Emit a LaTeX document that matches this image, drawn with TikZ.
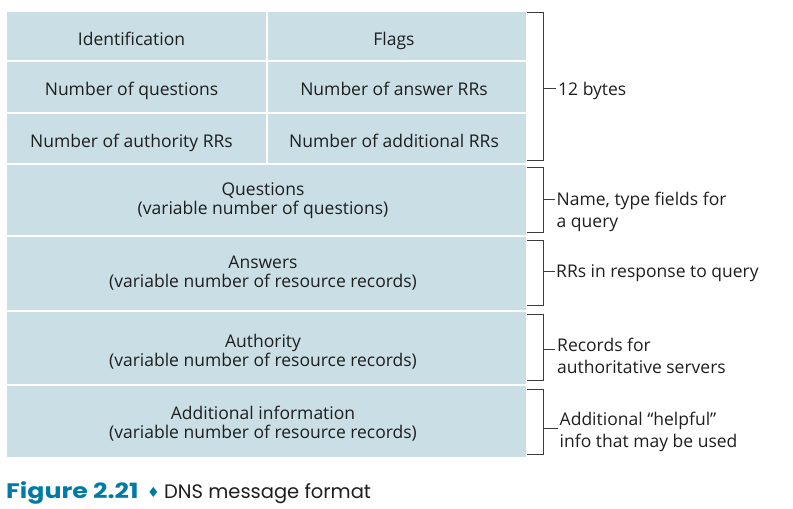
\documentclass[tikz,border=0pt]{standalone}
\usepackage{fontspec}
\setmainfont{Open Sans}
\newfontfamily\capfont{Poppins}
\newfontfamily\symfont{DejaVu Sans}
\definecolor{cellfill}{RGB}{201,223,229}
\definecolor{figblue}{RGB}{0,122,166}
\definecolor{ink}{RGB}{30,30,30}
\definecolor{bracegray}{RGB}{60,60,60}
\begin{document}
\begin{tikzpicture}[x=1pt,y=-1pt,
  cell/.style={fill=cellfill, draw=none, inner sep=0pt},
  txt/.style={font=\fontsize{17.5}{19}\selectfont, text=ink, align=center, inner sep=0pt, anchor=base},
  note/.style={font=\fontsize{17.5}{22}\selectfont, text=ink, align=left, inner sep=0pt, anchor=base west},
  brace/.style={draw=bracegray, line width=1pt}]
\useasboundingbox (0,0) rectangle (793,509);

% header fields (12 bytes)
\path[cell] (7,11.5) rectangle (266,59.5);
\path[cell] (268,11.5) rectangle (525.5,59.5);
\path[cell] (7,61.5) rectangle (266,112);
\path[cell] (268,61.5) rectangle (525.5,112);
\path[cell] (7,114) rectangle (266,162.7);
\path[cell] (268,114) rectangle (525.5,162.7);
% variable-length sections
\path[cell] (7,164.7) rectangle (525.5,235);
\path[cell] (7,237) rectangle (525.5,309.5);
\path[cell] (7,312) rectangle (525.5,383.5);
\path[cell] (7,386) rectangle (525.5,456.7);

\node[txt] (id) at (131.5,45) {Identification};
\node[txt] (flags) at (394,45) {Flags};
\node[txt] (nq) at (131.5,95.7) {Number of questions};
\node[txt] (na) at (394,95.7) {Number of answer RRs};
\node[txt] (nau) at (131.5,147.3) {Number of authority RRs};
\node[txt] (nad) at (394,147.3) {Number of additional RRs};

% multi-line texts are placed by the baseline of their last line
\node[txt] (q) at (263,214.5) {Questions\\(variable number of questions)};
\node[txt] (ans) at (263,287.5) {Answers\\(variable number of resource records)};
\node[txt] (auth) at (263,366) {Authority\\(variable number of resource records)};
\node[txt] (add) at (263,438) {Additional information\\(variable number of resource records)};

% brackets with their notes
\draw[brace] (527,12.3) -| (543,160) -- (527,160);
\draw[brace] (543,88.7) -- (556,88.7);
\node[note] (n1) at (558,95) {12 bytes};

\draw[brace] (527,167) -| (543,232) -- (527,232);
\draw[brace] (543,199) -- (555,199);
\node[note] (n2) at (556.5,227) {Name, type fields for\\a query};

\draw[brace] (527,240) -| (543,305.7) -- (527,305.7);
\draw[brace] (543,271.7) -- (555,271.7);
\node[note] (n3) at (556,277.5) {RRs in response to query};

\draw[brace] (527,314) -| (543,380) -- (527,380);
\draw[brace] (543,349) -- (555,349);
\node[note] (n4) at (557,373) {Records for\\authoritative servers};

\draw[brace] (527,389) -| (543,454) -- (527,454);
\draw[brace] (543,428) -- (558,428);
\node[note] (n5) at (559.5,447) {Additional \textquotedblleft helpful\textquotedblright\\info that may be used};

% caption
\node[anchor=base west, inner sep=0pt, font=\capfont\fontsize{21}{24}\selectfont\bfseries, text=figblue] (fig) at (6,498.3) {\scalebox{1.2}[1]{Figure 2.21}};
\node[anchor=base, inner sep=0pt, font=\symfont\fontsize{14}{16}\selectfont, text=figblue] (dia) at (153.5,497) {♦};
\node[anchor=base west, inner sep=0pt, font=\capfont\fontsize{19.5}{24}\selectfont, text=ink] (cap) at (164,498.3) {DNS message format};
\end{tikzpicture}
\end{document}
